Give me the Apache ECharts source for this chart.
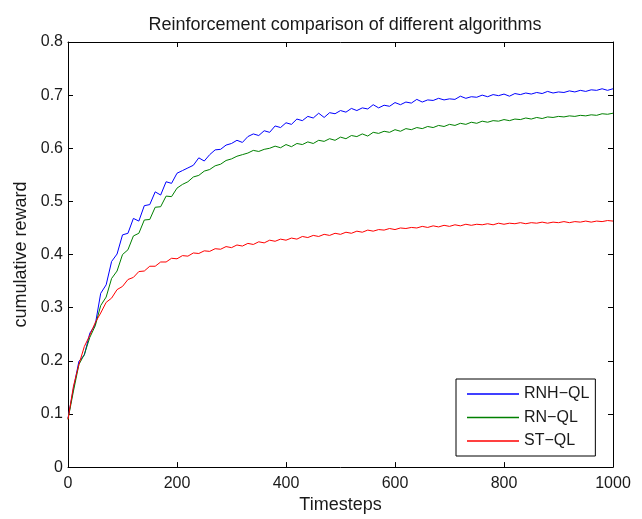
<!DOCTYPE html>
<html>
<head>
<meta charset="utf-8">
<script src="https://cdn.jsdelivr.net/npm/echarts@6/dist/echarts.min.js"></script>
<style>html,body{margin:0;padding:0;background:#fff;}#c{width:642px;height:519px;}</style>
</head>
<body>
<div id="c"></div>
<script>
const timesteps = [
0,10,20,30,40,50,60,70,80,90,
100,110,120,130,140,150,160,170,180,190,
200,210,220,230,240,250,260,270,280,290,
300,310,320,330,340,350,360,370,380,390,
400,410,420,430,440,450,460,470,480,490,
500,510,520,530,540,550,560,570,580,590,
600,610,620,630,640,650,660,670,680,690,
700,710,720,730,740,750,760,770,780,790,
800,810,820,830,840,850,860,870,880,890,
900,910,920,930,940,950,960,970,980,990,
1000];
const rnhQL = [
0.092,0.148,0.199,0.211,0.252,0.268,0.327,0.343,0.387,0.401,
0.437,0.440,0.468,0.463,0.492,0.494,0.518,0.512,0.537,0.534,
0.553,0.558,0.563,0.568,0.582,0.576,0.588,0.597,0.598,0.606,
0.609,0.615,0.611,0.622,0.627,0.624,0.633,0.630,0.642,0.639,
0.648,0.645,0.655,0.652,0.660,0.657,0.666,0.658,0.667,0.665,
0.671,0.668,0.675,0.671,0.676,0.674,0.682,0.676,0.681,0.679,
0.686,0.682,0.687,0.685,0.692,0.687,0.691,0.690,0.694,0.691,
0.693,0.692,0.698,0.694,0.697,0.696,0.700,0.697,0.701,0.699,
0.702,0.698,0.703,0.701,0.704,0.702,0.705,0.703,0.707,0.704,
0.706,0.705,0.708,0.706,0.709,0.707,0.710,0.709,0.712,0.709,
0.712];
const rnQL = [
0.090,0.143,0.193,0.212,0.244,0.266,0.304,0.320,0.355,0.369,
0.400,0.409,0.435,0.440,0.465,0.466,0.489,0.490,0.510,0.509,
0.525,0.532,0.537,0.546,0.549,0.557,0.560,0.567,0.570,0.577,
0.580,0.585,0.588,0.591,0.596,0.594,0.598,0.600,0.604,0.601,
0.607,0.603,0.609,0.607,0.612,0.609,0.615,0.613,0.618,0.615,
0.621,0.618,0.624,0.622,0.627,0.623,0.630,0.628,0.632,0.630,
0.635,0.632,0.637,0.635,0.639,0.637,0.641,0.639,0.643,0.641,
0.645,0.643,0.647,0.645,0.649,0.647,0.651,0.649,0.652,0.651,
0.654,0.652,0.655,0.654,0.657,0.655,0.658,0.656,0.659,0.658,
0.660,0.659,0.661,0.660,0.662,0.661,0.663,0.662,0.665,0.664,
0.666];
const stQL = [
0.090,0.152,0.193,0.227,0.248,0.272,0.290,0.310,0.318,0.334,
0.340,0.353,0.357,0.368,0.369,0.378,0.378,0.386,0.386,0.393,
0.392,0.398,0.397,0.403,0.402,0.407,0.406,0.411,0.410,0.415,
0.413,0.418,0.416,0.421,0.419,0.424,0.422,0.427,0.425,0.429,
0.427,0.431,0.429,0.434,0.432,0.436,0.434,0.438,0.436,0.440,
0.438,0.442,0.440,0.444,0.442,0.446,0.444,0.447,0.446,0.449,
0.447,0.450,0.449,0.451,0.450,0.453,0.451,0.454,0.452,0.455,
0.453,0.456,0.454,0.457,0.455,0.457,0.456,0.458,0.456,0.459,
0.457,0.459,0.458,0.460,0.458,0.460,0.459,0.461,0.459,0.461,
0.460,0.462,0.460,0.462,0.461,0.463,0.461,0.463,0.462,0.464,
0.463];
const seriesNames = ['RNH\u2212QL', 'RN\u2212QL', 'ST\u2212QL'];
const seriesColors = ['#0000ff', '#008000', '#ff0000'];
const xTicks = [0, 200, 400, 600, 800, 1000];
const yTicks = [0, 0.1, 0.2, 0.3, 0.4, 0.5, 0.6, 0.7, 0.8];

const FONT = '"Liberation Sans", Arial, Helvetica, sans-serif';
const pairs = arr => timesteps.map((t, i) => [t, arr[i]]);
const allData = [rnhQL, rnQL, stQL];

const axisCommon = {
  type: 'value',
  axisLine: { show: true, onZero: false, lineStyle: { color: '#000', width: 1 } },
  axisTick: { show: true, inside: true, length: 5, lineStyle: { color: '#000' } },
  splitLine: { show: false }
};

const chart = echarts.init(document.getElementById('c'), null, { renderer: 'canvas' });
chart.setOption({
  backgroundColor: '#fff',
  animation: false,
  title: {
    text: 'Reinforcement comparison of different algorithms',
    left: 340, top: 11, textAlign: 'center',
    textStyle: { fontFamily: FONT, fontSize: 18, fontWeight: 'normal', color: '#1a1a1a' }
  },
  grid: { left: 68, right: 29, top: 42, bottom: 48, containLabel: false },
  legend: {
    data: seriesNames.map(n => ({ name: n, icon: 'rect' })),
    orient: 'vertical',
    left: 456, top: 379,
    padding: [6, 6, 6, 11],
    itemWidth: 52, itemHeight: 1.6, itemGap: 5.5,
    borderColor: '#000', borderWidth: 1,
    backgroundColor: '#fff',
    selectedMode: false,
    textStyle: { fontFamily: FONT, fontSize: 16, color: '#1a1a1a', lineHeight: 18 }
  },
  xAxis: [
    Object.assign({}, axisCommon, {
      position: 'bottom', min: 0, max: 1000, interval: 200,
      name: 'Timesteps', nameLocation: 'middle', nameGap: 28,
      nameTextStyle: { fontFamily: FONT, fontSize: 18, color: '#1a1a1a' },
      axisLabel: { fontFamily: FONT, fontSize: 16, color: '#1a1a1a', margin: 8,
        formatter: v => xTicks.includes(v) ? String(v) : '' }
    }),
    Object.assign({}, axisCommon, {
      position: 'top', min: 0, max: 1000, interval: 200,
      axisLabel: { show: false }
    })
  ],
  yAxis: [
    Object.assign({}, axisCommon, {
      position: 'left', min: 0, max: 0.8, interval: 0.1,
      name: 'cumulative reward', nameLocation: 'middle', nameGap: 32,
      nameTextStyle: { fontFamily: FONT, fontSize: 18, color: '#1a1a1a' },
      axisLabel: { fontFamily: FONT, fontSize: 16, color: '#1a1a1a', margin: 5,
        formatter: v => { const t = yTicks.find(k => Math.abs(k - v) < 1e-9); return t === undefined ? '' : String(t); } }
    }),
    Object.assign({}, axisCommon, {
      position: 'right', min: 0, max: 0.8, interval: 0.1,
      axisLabel: { show: false }
    })
  ],
  series: seriesNames.map((n, i) => ({
    name: n,
    type: 'line',
    data: pairs(allData[i]),
    symbol: 'none',
    smooth: false,
    lineStyle: { color: seriesColors[i], width: 1 },
    itemStyle: { color: seriesColors[i] },
    z: 2 + i
  }))
});
</script>
</body>
</html>
